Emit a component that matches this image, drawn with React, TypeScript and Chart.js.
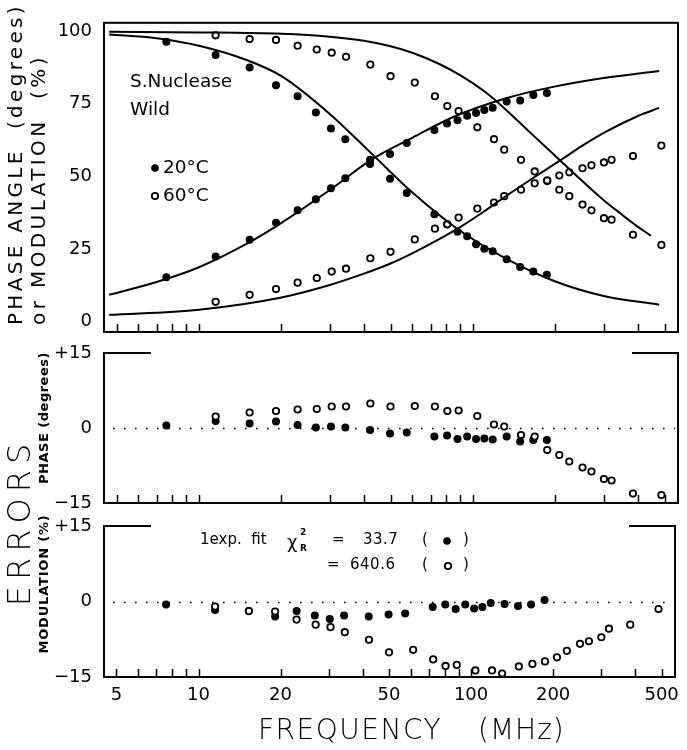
import React, { useEffect, useRef } from 'react';
import { Chart, registerables } from 'chart.js';

Chart.register(...registerables);

const W = 687;
const H = 750;
const FAM = "'DejaVu Sans', sans-serif";

// ---------- 20 °C (filled circles) ----------
const freq20 = [7.6, 11.5, 15.3, 19.1, 22.9, 26.7, 30.3, 34.2, 42.1, 49.8, 57.3, 72.3, 80.4, 87.8, 95.2, 102.6, 110, 118, 132.7, 148.6, 166, 186];
const phase20 = [15.3, 22.4, 28.2, 34.0, 38.3, 42.1, 45.9, 49.4, 55.7, 57.7, 61.5, 66.0, 68.2, 69.3, 70.9, 71.8, 72.9, 73.6, 75.8, 76.1, 78.0, 78.7];
const mod20 = [96.4, 91.8, 87.5, 81.4, 77.6, 72.0, 66.5, 62.8, 54.3, 49.2, 44.3, 37.0, 33.5, 30.9, 29.4, 26.6, 25.1, 24.2, 21.5, 18.8, 17.2, 16.1];
const phaseErr20 = [0.5, 1.4, 0.9, 1.3, 0.6, 0.1, 0.3, 0.1, -0.4, -1.1, -0.9, -1.7, -1.5, -2.2, -1.7, -2.2, -2.1, -2.3, -1.7, -2.7, -2.4, -2.4];
const modErr20 = [-0.6, -1.7, -1.9, -3.0, -1.9, -2.8, -3.5, -2.8, -3.0, -2.6, -2.4, -1.1, -0.6, -1.5, -0.6, -1.4, -1.1, -0.3, -0.5, -0.9, -0.6, 0.3];

// ---------- 60 °C (open circles) ----------
const freq60 = [11.5, 15.3, 19.1, 22.9, 26.9, 30.5, 34.4, 42.2, 50, 61.3, 72.6, 80.6, 88.6, 103.7, 119.3, 130, 149.7, 167.9, 186.6, 206.5, 224.6, 251, 270.6, 300.5, 320.4, 383.6, 487];
const phase60 = [6.8, 9.2, 11.2, 13.4, 15.0, 17.2, 18.2, 21.8, 24.0, 28.3, 32.0, 33.5, 35.8, 38.9, 41.0, 43.2, 45.4, 47.6, 48.4, 50.3, 51.4, 52.8, 53.8, 54.8, 55.7, 57.0, 60.6];
const mod60 = [98.6, 97.3, 97.0, 95.0, 93.7, 92.6, 91.2, 88.5, 84.5, 82.3, 77.6, 74.2, 72.5, 66.9, 62.8, 59.2, 55.7, 51.7, 48.6, 45.4, 43.2, 40.3, 38.3, 35.6, 35.1, 29.9, 26.4];
const phaseErr60 = [2.3, 3.1, 3.4, 3.7, 3.8, 4.3, 4.3, 4.9, 4.3, 4.4, 4.3, 3.4, 3.5, 2.4, 0.7, 0.3, -1.4, -1.7, -4.4, -5.4, -6.7, -7.9, -8.7, -10.2, -10.5, -13.1, -13.4];
const modErr60 = [-1.0, -1.9, -2.0, -3.6, -4.6, -5.1, -6.1, -7.6, -10.1, -9.6, -11.5, -12.8, -12.6, -13.7, -13.7, -14.3, -12.9, -12.4, -11.9, -11.1, -9.8, -8.4, -7.9, -7.1, -5.4, -4.6, -1.5];

// ---------- one-exponential fit curves ----------
const fitFreq20 = [4.7, 7, 10, 15, 20, 30, 43, 60, 86, 133, 200, 300, 478];
const fitPhase20 = [9.2, 13.6, 18.7, 26.9, 34.0, 45.3, 56.0, 63.3, 70.7, 77.0, 81.0, 83.9, 86.3];
const fitMod20 = [98.9, 97.6, 95.0, 90.0, 84.5, 71.5, 57.5, 44.5, 32.5, 21.5, 13.8, 8.8, 5.8];
const fitFreq60 = [4.7, 10, 20, 30, 40, 50, 60, 75, 90, 110, 130, 160, 208, 250, 307, 400, 478];
const fitPhase60 = [2.3, 4.1, 8.3, 12.6, 16.5, 20.0, 23.5, 28.3, 32.6, 38.0, 42.8, 48.5, 55.5, 60.5, 65.5, 70.8, 73.6];
const fitModFreq60 = [4.7, 10, 20, 30, 40, 50, 60, 75, 90, 110, 130, 160, 208, 250, 300, 350, 400, 446];
const fitMod60 = [99.8, 99.6, 99.1, 98.1, 96.7, 94.8, 92.6, 88.8, 84.8, 79.3, 73.5, 65.5, 55.5, 48.5, 41.8, 36.8, 32.6, 29.6];

// ---------- axes ----------
const X_MIN = 4.5;
const X_MAX = 560;
const xTickMarks = [5, 6, 7, 8, 9, 10, 20, 30, 40, 50, 60, 70, 80, 90, 100, 200, 300, 400, 500];
const xTickLabels = [5, 10, 20, 50, 100, 200, 500];
const topTicks = [0, 25, 50, 75, 100];
const errTicks = [-15, 0, 15];

const pts = (xs: number[], ys: number[]) => xs.map((x, i) => ({ x, y: ys[i] }));

const filled = (data: any) => ({
  type: 'scatter', data, pointRadius: 4, pointHoverRadius: 4,
  pointBackgroundColor: '#000', pointBorderColor: '#000', pointBorderWidth: 0, showLine: false, clip: false,
});
const open = (data: any) => ({
  type: 'scatter', data, pointRadius: 3.2, pointHoverRadius: 3.2,
  pointBackgroundColor: '#fff', pointBorderColor: '#000', pointBorderWidth: 1.8, showLine: false, clip: false,
});
const curve = (data: any) => ({
  type: 'line', data, borderColor: '#000', borderWidth: 2, pointRadius: 0, pointHoverRadius: 0,
  fill: false, cubicInterpolationMode: 'monotone', clip: false,
});

function vtext(ctx: CanvasRenderingContext2D, text: string, x: number, y: number, font: string, align: CanvasTextAlign, spacing = 0) {
  ctx.save();
  ctx.translate(x, y);
  ctx.rotate(-Math.PI / 2);
  ctx.font = font;
  ctx.textAlign = align;
  ctx.textBaseline = 'middle';
  (ctx as any).letterSpacing = spacing + 'px';
  ctx.fillStyle = '#000';
  ctx.fillText(text, 0, 0);
  ctx.restore();
}

function htext(ctx: CanvasRenderingContext2D, text: string, x: number, y: number, font: string, align: CanvasTextAlign = 'left', spacing = 0) {
  ctx.save();
  ctx.font = font;
  ctx.textAlign = align;
  ctx.textBaseline = 'middle';
  (ctx as any).letterSpacing = spacing + 'px';
  ctx.fillStyle = '#000';
  ctx.fillText(text, x, y);
  ctx.restore();
}

function dot(ctx: CanvasRenderingContext2D, x: number, y: number, isOpen: boolean) {
  ctx.save();
  ctx.beginPath();
  ctx.arc(x, y, isOpen ? 3.2 : 3.8, 0, Math.PI * 2);
  if (isOpen) { ctx.lineWidth = 1.8; ctx.strokeStyle = '#000'; ctx.stroke(); }
  else { ctx.fillStyle = '#000'; ctx.fill(); }
  ctx.restore();
}

function drawXTickMarks(ctx: CanvasRenderingContext2D, chart: any) {
  const xs = chart.scales.x;
  const b = chart.chartArea.bottom;
  ctx.save();
  ctx.strokeStyle = '#000';
  ctx.lineWidth = 1.5;
  for (const v of xTickMarks) {
    const px = Math.round(xs.getPixelForValue(v)) + 0.5;
    ctx.beginPath();
    ctx.moveTo(px, b);
    ctx.lineTo(px, b - 8);
    ctx.stroke();
  }
  ctx.restore();
}

function drawFullFrame(ctx: CanvasRenderingContext2D, chart: any) {
  const a = chart.chartArea;
  ctx.save();
  ctx.strokeStyle = '#000';
  ctx.lineWidth = 2;
  ctx.strokeRect(a.left, a.top, a.right - a.left, a.bottom - a.top);
  ctx.restore();
}

function drawErrFrame(ctx: CanvasRenderingContext2D, chart: any) {
  const a = chart.chartArea;
  ctx.save();
  ctx.strokeStyle = '#000';
  ctx.lineWidth = 2;
  ctx.beginPath();
  ctx.moveTo(a.left + 47, a.top);
  ctx.lineTo(a.left, a.top);
  ctx.lineTo(a.left, a.bottom);
  ctx.lineTo(a.right, a.bottom);
  ctx.lineTo(a.right, a.top);
  ctx.lineTo(a.right - 46, a.top);
  ctx.stroke();
  // dotted zero line
  const y0 = Math.round(chart.scales.y.getPixelForValue(0)) + 0.5;
  ctx.lineWidth = 1.6;
  ctx.setLineDash([1.6, 9.4]);
  ctx.beginPath();
  ctx.moveTo(a.left + 9, y0);
  ctx.lineTo(a.right - 3, y0);
  ctx.stroke();
  ctx.restore();
}

const tickFont = { family: FAM, size: 18 };

function yScale(min: number, max: number, ticks: number[], fmt: (v: number) => string) {
  return {
    type: 'linear', min, max,
    afterFit: (s: any) => { s.width = 104; },
    afterBuildTicks: (s: any) => { s.ticks = ticks.map((v) => ({ value: v })); },
    ticks: { font: tickFont, color: '#000', padding: 12, callback: (v: any) => fmt(Number(v)) },
    grid: { display: false, drawTicks: false },
    border: { display: false },
  };
}

function xScale(show: boolean) {
  return {
    type: 'logarithmic', min: X_MIN, max: X_MAX, display: show,
    afterFit: (s: any) => { s.height = show ? 73 : 0; },
    afterBuildTicks: (s: any) => { s.ticks = xTickLabels.map((v) => ({ value: v })); },
    ticks: { font: tickFont, color: '#000', padding: 8, autoSkip: false, maxRotation: 0, minRotation: 0, callback: (v: any) => String(v) },
    grid: { display: false, drawTicks: false },
    border: { display: false },
  };
}

const errFmt = (v: number) => (v > 0 ? '+' + v : v < 0 ? '\u2212' + -v : '0');

function baseOptions(padTop: number, padBottom: number, xShow: boolean, yMin: number, yMax: number, ticks: number[], fmt: (v: number) => string) {
  return {
    animation: false,
    responsive: false,
    events: [],
    layout: { padding: { top: padTop, bottom: padBottom, left: 0, right: 9 } },
    plugins: { legend: { display: false }, tooltip: { enabled: false }, title: { display: false } },
    scales: { x: xScale(xShow), y: yScale(yMin, yMax, ticks, fmt) },
  };
}

function topConfig(): any {
  return {
    type: 'scatter',
    data: {
      datasets: [
        curve(pts(fitFreq20, fitMod20)),
        curve(pts(fitFreq20, fitPhase20)),
        curve(pts(fitModFreq60, fitMod60)),
        curve(pts(fitFreq60, fitPhase60)),
        open(pts(freq60, mod60)),
        open(pts(freq60, phase60)),
        filled(pts(freq20, mod20)),
        filled(pts(freq20, phase20)),
      ],
    },
    options: baseOptions(5, 418, false, -3.6, 102.9, topTicks, (v) => String(v)),
    plugins: [{
      id: 'topDecor',
      afterDraw(chart: any) {
        const ctx = chart.ctx as CanvasRenderingContext2D;
        drawFullFrame(ctx, chart);
        drawXTickMarks(ctx, chart);
        vtext(ctx, 'PHASE ANGLE  (degrees)', 17, 325, `20px ${FAM}`, 'left', 3.3);
        vtext(ctx, 'or MODULATION  (%)', 40, 325, `20px ${FAM}`, 'left', 3.4);
        htext(ctx, 'S.Nuclease', 130, 82, `18.5px ${FAM}`);
        htext(ctx, 'Wild', 130, 110, `18.5px ${FAM}`);
        dot(ctx, 155, 168, false);
        htext(ctx, '20°C', 163, 168, `18.5px ${FAM}`);
        dot(ctx, 155, 196, true);
        htext(ctx, '60°C', 163, 196, `18.5px ${FAM}`);
      },
    }],
  };
}

function midConfig(): any {
  return {
    type: 'scatter',
    data: { datasets: [open(pts(freq60, phaseErr60)), filled(pts(freq20, phaseErr20))] },
    options: baseOptions(353, 247, false, -15, 15, errTicks, errFmt),
    plugins: [{
      id: 'midDecor',
      beforeDatasetsDraw(chart: any) {
        const ctx = chart.ctx as CanvasRenderingContext2D;
        drawErrFrame(ctx, chart);
        drawXTickMarks(ctx, chart);
      },
      afterDraw(chart: any) {
        const ctx = chart.ctx as CanvasRenderingContext2D;
        vtext(ctx, 'PHASE (degrees)', 45, 418, `bold 13px ${FAM}`, 'center', 0.5);
        vtext(ctx, 'ERRORS', 22, 522, `300 32px ${FAM}`, 'center', 6);
      },
    }],
  };
}

function botConfig(): any {
  return {
    type: 'scatter',
    data: { datasets: [open(pts(freq60, modErr60)), filled(pts(freq20, modErr20))] },
    options: baseOptions(526, 0, true, -15, 15, errTicks, errFmt),
    plugins: [{
      id: 'botDecor',
      beforeDatasetsDraw(chart: any) {
        const ctx = chart.ctx as CanvasRenderingContext2D;
        drawErrFrame(ctx, chart);
        drawXTickMarks(ctx, chart);
      },
      afterDraw(chart: any) {
        const ctx = chart.ctx as CanvasRenderingContext2D;
        vtext(ctx, 'MODULATION (%)', 45, 584, `bold 13px ${FAM}`, 'center', 0.8);
        htext(ctx, 'FREQUENCY', 258, 732, `300 28px ${FAM}`, 'left', 1.5);
        htext(ctx, '(MHz)', 478, 732, `300 28px ${FAM}`, 'left', 1);
        const f = `15px ${FAM}`;
        htext(ctx, '1exp.  fit', 200, 540, f);
        htext(ctx, '\u03C7', 287, 543, `18px ${FAM}`);
        htext(ctx, '2', 300, 533, `bold 9px ${FAM}`);
        htext(ctx, 'R', 300, 549, `bold 9px ${FAM}`);
        htext(ctx, '=', 332, 540, f);
        htext(ctx, '33.7', 363, 540, f, 'left', 0.5);
        htext(ctx, '(', 422, 540, f);
        dot(ctx, 447, 541, false);
        htext(ctx, ')', 463, 540, f);
        htext(ctx, '=', 327, 565, f);
        htext(ctx, '640.6', 350, 565, f, 'left', 0.5);
        htext(ctx, '(', 422, 565, f);
        dot(ctx, 448, 566, true);
        htext(ctx, ')', 463, 565, f);
      },
    }],
  };
}

export default function App() {
  const r1 = useRef<HTMLCanvasElement>(null);
  const r2 = useRef<HTMLCanvasElement>(null);
  const r3 = useRef<HTMLCanvasElement>(null);
  useEffect(() => {
    const charts = [
      new Chart(r1.current as HTMLCanvasElement, topConfig()),
      new Chart(r2.current as HTMLCanvasElement, midConfig()),
      new Chart(r3.current as HTMLCanvasElement, botConfig()),
    ];
    return () => charts.forEach((c) => c.destroy());
  }, []);
  const st: React.CSSProperties = { position: 'absolute', left: 0, top: 0, width: W, height: H };
  return (
    <div style={{ position: 'absolute', left: 0, top: 0, width: W, height: H, background: '#fff', overflow: 'hidden' }}>
      <canvas ref={r1} width={W} height={H} style={st} />
      <canvas ref={r2} width={W} height={H} style={st} />
      <canvas ref={r3} width={W} height={H} style={st} />
    </div>
  );
}
